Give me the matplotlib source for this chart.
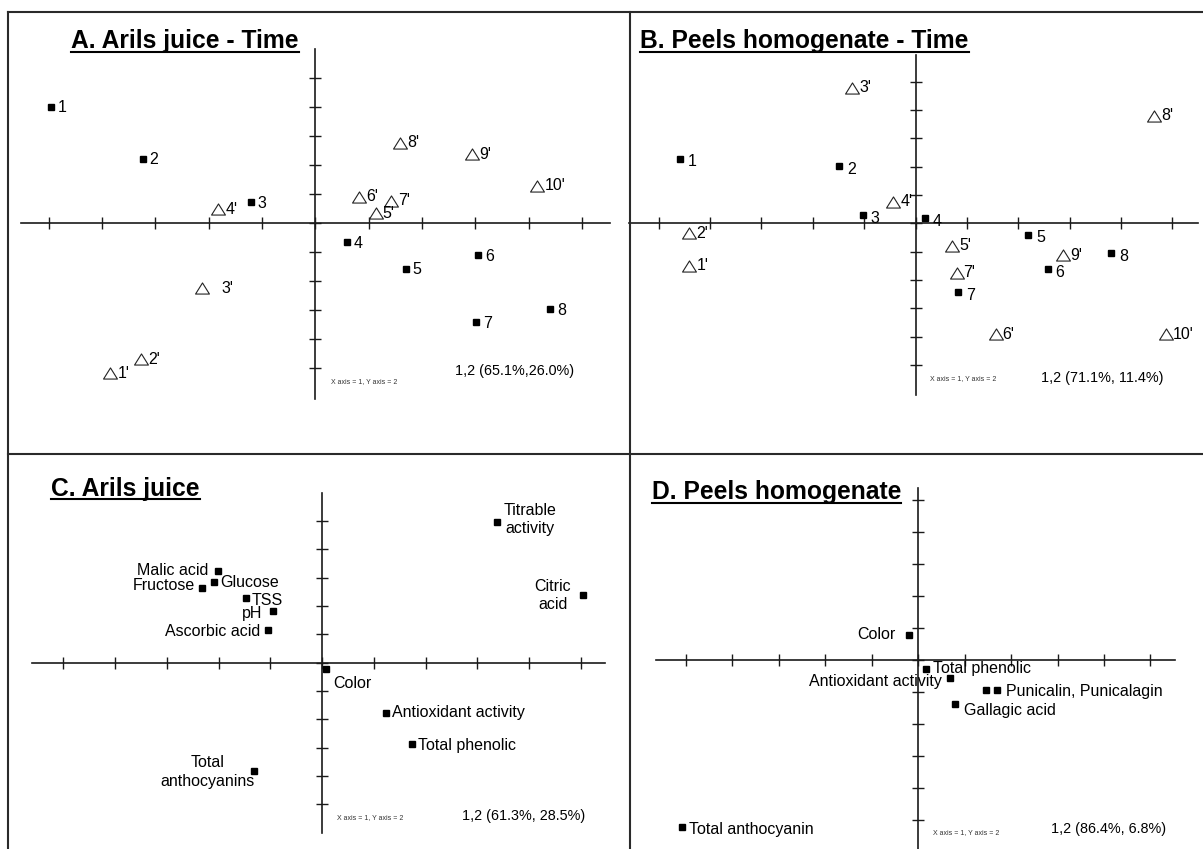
import matplotlib
matplotlib.use('Agg')
import matplotlib.pyplot as plt
from matplotlib.lines import Line2D
from matplotlib.path import Path

# ---------------- data ----------------
A_sq_labels = ['1', '2', '3', '4', '5', '6', '7', '8']
A_sq_x = [-4.96, -3.24, -1.21, 0.59, 1.69, 3.05, 3.01, 4.40]
A_sq_y = [4.01, 2.22, 0.71, -0.67, -1.58, -1.11, -3.43, -2.97]
A_tri_labels = ["1'", "2'", "3'", "4'", "5'", "6'", "7'", "8'", "9'", "10'"]
A_tri_x = [-3.84, -3.27, -2.12, -1.82, 1.13, 0.82, 1.42, 1.59, 2.94, 4.16]
A_tri_y = [-5.18, -4.70, -2.25, 0.48, 0.33, 0.91, 0.77, 2.77, 2.37, 1.29]

B_sq_labels = ['1', '2', '3', '4', '5', '6', '7', '8']
B_sq_x = [-4.59, -1.48, -1.03, 0.18, 2.19, 2.57, 0.83, 3.81]
B_sq_y = [2.28, 2.02, 0.29, 0.18, -0.41, -1.62, -2.44, -1.06]
B_tri_labels = ["1'", "2'", "3'", "4'", "5'", "6'", "7'", "8'", "9'", "10'"]
B_tri_x = [-4.40, -4.40, -1.23, -0.43, 0.71, 1.56, 0.80, 4.65, 2.87, 4.88]
B_tri_y = [-1.50, -0.35, 4.79, 0.76, -0.79, -3.92, -1.74, 3.80, -1.12, -3.92]

C_labels = ['Malic acid', 'Glucose', 'Fructose', 'TSS', 'pH', 'Ascorbic acid', 'Color',
            'Antioxidant activity', 'Total phenolic', 'Total\nanthocyanins',
            'Titrable\nactivity', 'Citric\nacid']
C_x = [-2.02, -2.09, -2.32, -1.47, -0.95, -1.05, 0.08, 1.24, 1.73, -1.31, 3.37, 5.04]
C_y = [3.25, 2.84, 2.65, 2.29, 1.82, 1.14, -0.22, -1.76, -2.87, -3.82, 4.98, 2.39]

D_labels = ['Color', 'Total phenolic', 'Antioxidant activity', 'Punicalin', 'Punicalagin',
            'Gallagic acid', 'Total anthocyanin']
D_x = [-0.20, 0.16, 0.69, 1.46, 1.70, 0.80, -5.07]
D_y = [0.78, -0.27, -0.57, -0.94, -0.94, -1.38, -5.23]

titles = ['A. Arils juice - Time', 'B. Peels homogenate - Time', 'C. Arils juice', 'D. Peels homogenate']
variance_texts = ['1,2 (65.1%,26.0%)', '1,2 (71.1%, 11.4%)', '1,2 (61.3%, 28.5%)', '1,2 (86.4%, 6.8%)']
axis_note = 'X axis = 1, Y axis = 2'
tick_values = [-5, -4, -3, -2, -1, 0, 1, 2, 3, 4, 5]

# ---------------- layout / style ----------------
W, H, DPI = 1203, 849, 100
plt.rcParams['font.family'] = ['Liberation Sans', 'DejaVu Sans']
fig = plt.figure(figsize=(W / DPI, H / DPI), dpi=DPI)
fig.patch.set_facecolor('white')

def fx(px):
    return px / W

def fy(py):
    return 1 - py / H

PT = 0.72  # px -> points at 100 dpi
LABEL_FS = 11.5
AXCOL = '#1a1a1a'

tri_marker = Path([(-1, -0.8), (1, -0.8), (0, 0.8), (-1, -0.8)],
                  [Path.MOVETO, Path.LINETO, Path.LINETO, Path.CLOSEPOLY])

def make_panel(region, center, scale, hx, vy):
    x0, y0, x1, y1 = region
    cx, cy = center
    sx, sy = scale
    ax = fig.add_axes([fx(x0), fy(y1), (x1 - x0) / W, (y1 - y0) / H])
    ax.set_xlim((x0 - cx) / sx, (x1 - cx) / sx)
    ax.set_ylim((cy - y1) / sy, (cy - y0) / sy)
    ax.patch.set_alpha(0)
    for s in ['top', 'right']:
        ax.spines[s].set_visible(False)
    ax.spines['left'].set_position(('data', 0))
    ax.spines['bottom'].set_position(('data', 0))
    ax.spines['bottom'].set_bounds(*hx)
    ax.spines['left'].set_bounds(*vy)
    for s in ['left', 'bottom']:
        ax.spines[s].set_color(AXCOL)
        ax.spines[s].set_linewidth(1.2)
    ax.set_xticks(tick_values)
    ax.set_yticks(tick_values)
    ax.tick_params(direction='inout', length=8, width=1.0, color=AXCOL,
                   labelbottom=False, labelleft=False)
    return ax

def squares(ax, xs, ys):
    ax.plot(xs, ys, linestyle='none', marker='s', markersize=5, color='black', clip_on=False)

def triangles(ax, xs, ys):
    ax.plot(xs, ys, linestyle='none', marker=tri_marker, markersize=10, markerfacecolor='none',
            markeredgecolor='#222', markeredgewidth=0.8, clip_on=False)

def label(ax, text, x, y, dx, dy, ha='left', fs=LABEL_FS, ls=1.27):
    ax.annotate(text, (x, y), xytext=(dx * PT, -dy * PT), textcoords='offset points',
                ha=ha, va='center', fontsize=fs, linespacing=ls, multialignment='center',
                annotation_clip=False)

panels = [
    dict(region=(8, 12, 630, 454), center=(315.4, 223.0), scale=(53.36, 29.0),
         hx=(-5.52, 5.52), vy=(-6.07, 6.0)),
    dict(region=(630, 12, 1203, 454), center=(915.5, 223.3), scale=(51.38, 28.33),
         hx=(-5.57, 5.50), vy=(-6.06, 5.94)),
    dict(region=(8, 454, 630, 849), center=(322.1, 662.7), scale=(51.78, 28.33),
         hx=(-5.61, 5.46), vy=(-6.02, 6.0)),
    dict(region=(630, 454, 1203, 849), center=(918.1, 660.0), scale=(46.47, 32.0),
         hx=(-5.64, 5.53), vy=(-5.9, 5.37)),
]
axes = [make_panel(**p) for p in panels]

# ---- Panel A ----
ax = axes[0]
squares(ax, A_sq_x, A_sq_y)
triangles(ax, A_tri_x, A_tri_y)
for t, x, y in zip(A_sq_labels, A_sq_x, A_sq_y):
    label(ax, t, x, y, 7, 1)
for t, x, y in zip(A_tri_labels, A_tri_x, A_tri_y):
    label(ax, t, x, y, 19 if t == "3'" else 7, 0)

# ---- Panel B ----
ax = axes[1]
squares(ax, B_sq_x, B_sq_y)
triangles(ax, B_tri_x, B_tri_y)
for t, x, y in zip(B_sq_labels, B_sq_x, B_sq_y):
    label(ax, t, x, y, 8, 3)
for t, x, y in zip(B_tri_labels, B_tri_x, B_tri_y):
    label(ax, t, x, y, 7, 0)

# ---- Panel C ----
ax = axes[2]
squares(ax, C_x, C_y)
C_style = {
    'Malic acid': (-9.5, 0, 'right'), 'Glucose': (6.7, 0, 'left'), 'Fructose': (-7, -2, 'right'),
    'TSS': (6, 2.3, 'left'), 'pH': (-10.7, 2.3, 'right'), 'Ascorbic acid': (-7.5, 1, 'right'),
    'Color': (6.7, 15, 'left'), 'Antioxidant activity': (6, 0, 'left'),
    'Total phenolic': (6.3, 1, 'left'), 'Total\nanthocyanins': (-47, 1, 'center'),
    'Titrable\nactivity': (33.6, -2.3, 'center'), 'Citric\nacid': (-30.4, 0.5, 'center'),
}
for t, x, y in zip(C_labels, C_x, C_y):
    dx, dy, ha = C_style[t]
    label(ax, t, x, y, dx, dy, ha)

# ---- Panel D ----
ax = axes[3]
squares(ax, D_x, D_y)
D_display = {'Punicalin': '', 'Punicalagin': 'Punicalin, Punicalagin'}
D_style = {
    'Color': (-13.8, -1, 'right'), 'Total phenolic': (7.8, 0, 'left'),
    'Antioxidant activity': (-8.6, 3.3, 'right'), 'Punicalin': (8, 0, 'left'),
    'Punicalagin': (8.6, 1, 'left'), 'Gallagic acid': (8.6, 6, 'left'),
    'Total anthocyanin': (6.3, 2, 'left'),
}
for t, x, y in zip(D_labels, D_x, D_y):
    txt = D_display.get(t, t)
    if txt:
        dx, dy, ha = D_style[t]
        label(ax, txt, x, y, dx, dy, ha)

# ---- variance + axis notes ----
var_pos = [(2.62, -5.09), (2.45, -5.45), (2.70, -5.41), (2.86, -5.29)]
note_pos = [(0.30, -5.47), (0.28, -5.47), (0.28, -5.46), (0.33, -5.40)]
for ax, vt, (vx, vy_), (nx, ny) in zip(axes, variance_texts, var_pos, note_pos):
    ax.text(vx, vy_, vt, ha='left', va='center', fontsize=10.4)
    ax.text(nx, ny, axis_note, ha='left', va='center', fontsize=5, color='#333')

# ---- borders ----
bcol = '#2a2a2a'
for xs, ys in [((8, 1203), (12, 12)), ((8, 8), (12, 849)), ((630, 630), (12, 849)),
               ((8, 1203), (454, 454))]:
    fig.add_artist(Line2D([fx(xs[0]), fx(xs[1])], [fy(ys[0]), fy(ys[1])],
                          transform=fig.transFigure, color=bcol, lw=1.5))

# ---- titles with underline ----
title_pos = [(71.1, 48.3), (640.4, 48.3), (51.4, 496.0), (651.6, 499.0)]
title_texts = []
for t, (tx, ty) in zip(titles, title_pos):
    title_texts.append(fig.text(fx(tx), fy(ty), t, fontsize=17.7, fontweight='bold',
                                ha='left', va='baseline'))
fig.canvas.draw()
r = fig.canvas.get_renderer()
for tt, (tx, ty) in zip(title_texts, title_pos):
    bb = tt.get_window_extent(renderer=r)
    uy = ty + 3.5
    fig.add_artist(Line2D([bb.x0 / W, bb.x1 / W], [fy(uy), fy(uy)],
                          transform=fig.transFigure, color='black', lw=1.5))

fig.savefig('out.png', dpi=DPI, facecolor='white')
